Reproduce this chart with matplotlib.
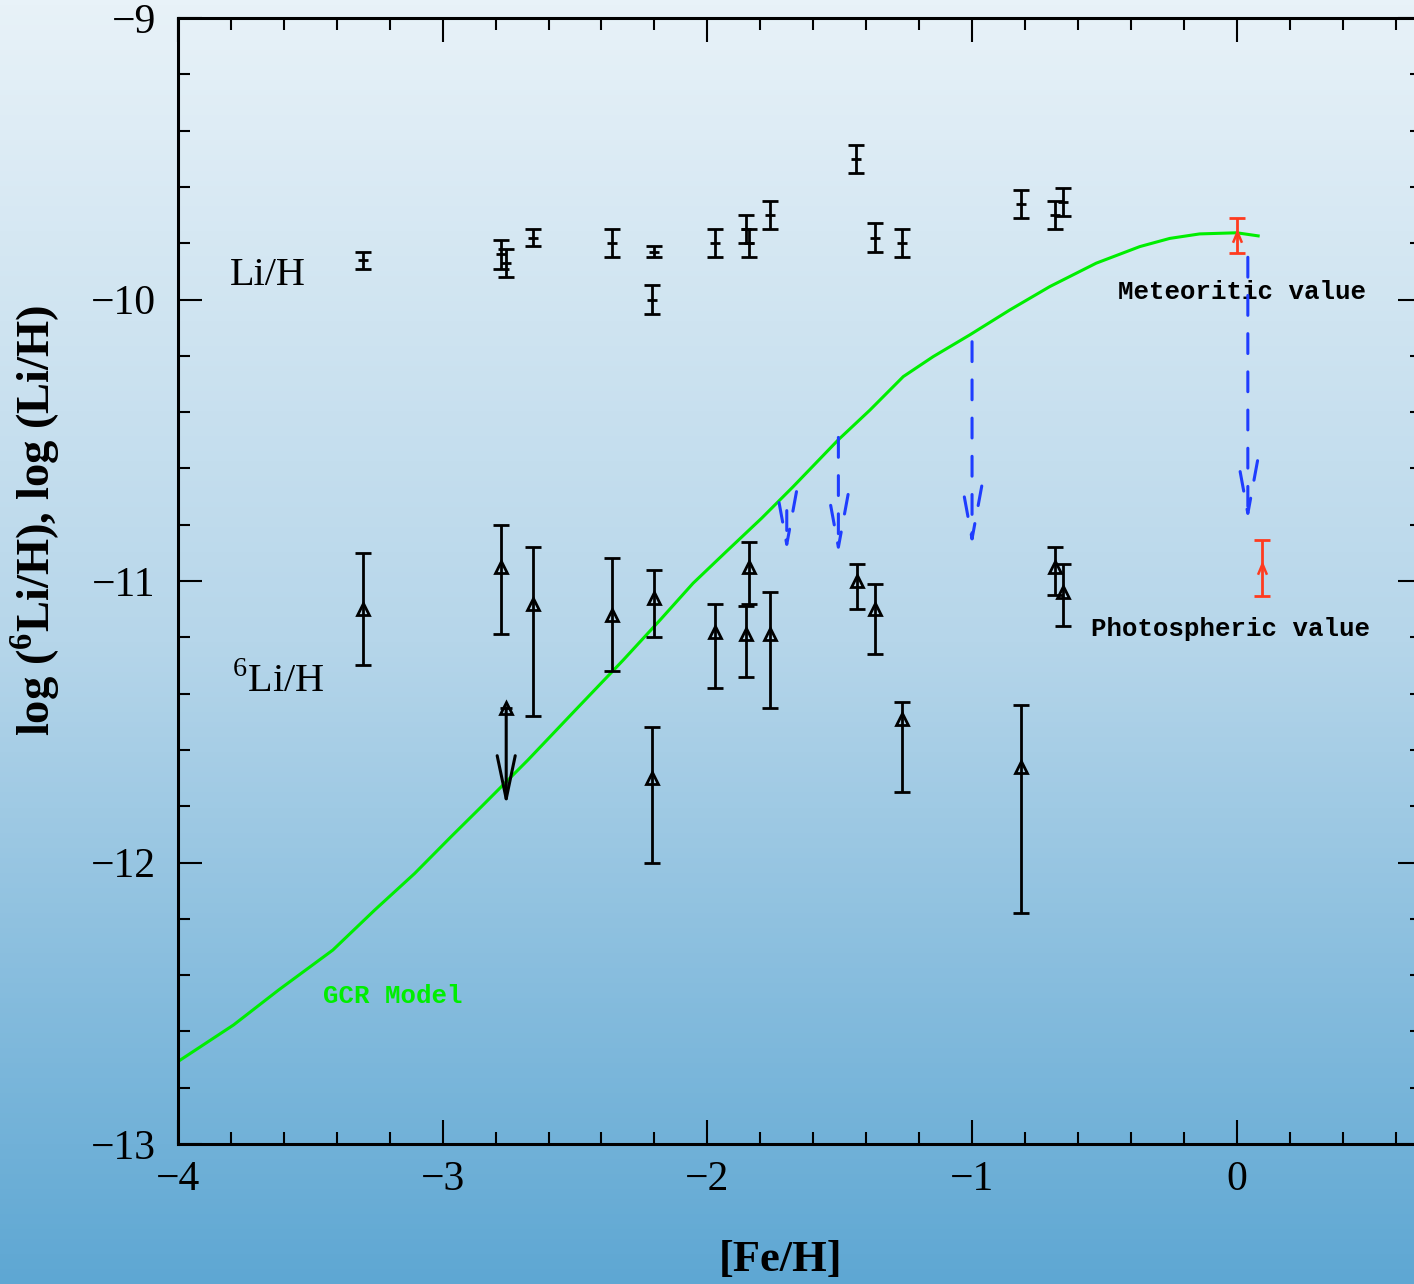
import matplotlib
matplotlib.use("Agg")
import matplotlib.pyplot as plt
import numpy as np
from matplotlib.colors import LinearSegmentedColormap
from matplotlib.path import Path
from matplotlib.ticker import MultipleLocator

# Li/H (upper group)
li_feh = [-3.30, -2.78, -2.76, -2.66, -2.36, -2.20, -2.21, -1.97, -1.855, -1.843,
          -1.765, -1.44, -1.365, -1.265, -0.815, -0.687, -0.657]
li_h = [-9.86, -9.84, -9.87, -9.78, -9.80, -9.83, -10.00, -9.80, -9.75, -9.80,
        -9.70, -9.50, -9.78, -9.80, -9.66, -9.70, -9.655]
li_err = [0.03, 0.05, 0.05, 0.03, 0.05, 0.02, 0.05, 0.05, 0.05, 0.05,
          0.05, 0.05, 0.05, 0.05, 0.05, 0.05, 0.05]

# 6Li/H (lower group)
li6_feh = [-3.30, -2.78, -2.66, -2.36, -2.20, -2.21, -1.97, -1.843, -1.855, -1.765,
           -1.435, -1.365, -1.265, -0.815, -0.687, -0.657]
li6_h = [-11.10, -10.95, -11.08, -11.12, -11.06, -11.70, -11.18, -10.95, -11.19, -11.19,
         -11.00, -11.10, -11.49, -11.66, -10.95, -11.04]
li6_lo = [0.20, 0.24, 0.40, 0.20, 0.14, 0.30, 0.20, 0.13, 0.15, 0.26,
          0.10, 0.16, 0.26, 0.52, 0.10, 0.12]
li6_hi = [0.20, 0.15, 0.20, 0.20, 0.10, 0.18, 0.10, 0.09, 0.10, 0.15,
          0.06, 0.09, 0.06, 0.22, 0.07, 0.10]

# 6Li upper limit
lim_feh = [-2.76]
lim_top = [-11.45]
lim_tip = [-11.80]

# solar values (meteoritic Li, photospheric Li)
sun_feh = [0.0, 0.094]
sun_h = [-9.773, -10.953]
sun_err = [0.061, 0.10]

# depletion arrows
dep_feh = [-1.70, -1.505, -1.00, 0.042]
dep_top = [-10.75, -10.49, -10.15, -9.85]
dep_tip = [-10.90, -10.91, -10.88, -10.79]

# GCR model curve
gcr_feh = [-4.0, -3.79, -3.62, -3.415, -3.257, -3.106, -2.968, -2.854, -2.678, -2.50,
           -2.318, -2.179, -2.054, -1.928, -1.795, -1.676, -1.506, -1.386, -1.26,
           -1.147, -1.009, -0.857, -0.706, -0.531, -0.366, -0.253, -0.14, 0.0, 0.081]
gcr_li = [-12.707, -12.577, -12.453, -12.311, -12.169, -12.039, -11.908, -11.802, -11.636, -11.46,
          -11.281, -11.139, -11.008, -10.895, -10.777, -10.665, -10.499, -10.393, -10.274,
          -10.203, -10.126, -10.037, -9.954, -9.871, -9.812, -9.783, -9.767, -9.763, -9.774]

plt.rcParams['font.family'] = ['Liberation Serif', 'DejaVu Serif']
plt.rcParams['mathtext.fontset'] = 'custom'
plt.rcParams['mathtext.rm'] = 'Liberation Serif'
plt.rcParams['mathtext.bf'] = 'Liberation Serif:bold'

fig = plt.figure(figsize=(14.14, 12.84), dpi=100)

# gradient background
bg = fig.add_axes([0, 0, 1, 1], zorder=-10)
cmap = LinearSegmentedColormap.from_list('bg', ['#e8f2f8', '#b6d6ea', '#5ea7d3'])
bg.imshow(np.linspace(0, 1, 256)[:, None], aspect='auto', cmap=cmap, extent=[0, 1, 0, 1])
bg.axis('off')

ax = fig.add_axes([178 / 1414, 140 / 1284, 1244 / 1414, 1126 / 1284])
ax.patch.set_alpha(0)
ax.set_xlim(-4, 0.7)
ax.set_ylim(-13, -9)

black = 'black'
red = '#ff3b1f'
blue = '#1f3dff'
green = '#00ee00'

ax.plot(gcr_feh, gcr_li, color=green, lw=2.2, zorder=2)

ax.errorbar(li_feh, li_h, yerr=li_err, fmt='_', color=black, ms=7, mew=2,
            elinewidth=2, capsize=5.5, capthick=2, zorder=3)

ax.errorbar(li6_feh, li6_h, yerr=[li6_lo, li6_hi], fmt='^', color=black, mfc='none',
            ms=8, mew=2, elinewidth=2, capsize=5.5, capthick=2, zorder=3)

ax.plot(lim_feh, lim_top, '^', color=black, mfc='none', ms=8, mew=2, zorder=3)
ax.plot(lim_feh, lim_top, '_', color=black, ms=9, mew=2, zorder=3)
for x, y0, y1 in zip(lim_feh, lim_top, lim_tip):
    ax.annotate('', xy=(x, y1), xytext=(x, y0),
                arrowprops=dict(arrowstyle='->,head_length=3.1,head_width=0.65',
                                mutation_scale=10, lw=2.2, color=black,
                                shrinkA=0, shrinkB=0), zorder=3)

chevron = Path([(-0.5, -0.7), (0, 0.5), (0.5, -0.7)],
               [Path.MOVETO, Path.LINETO, Path.LINETO])
ax.errorbar(sun_feh, sun_h, yerr=sun_err, fmt='none', ecolor=red,
            elinewidth=2, capsize=5.5, capthick=2, zorder=4)
ax.plot(sun_feh, sun_h, ls='none', marker=chevron, ms=9, mew=1.8, color=red,
        mfc='none', zorder=4)

for x, y0, y1 in zip(dep_feh, dep_top, dep_tip):
    ax.annotate('', xy=(x, y1), xytext=(x, y0),
                arrowprops=dict(arrowstyle='->,head_length=3.8,head_width=0.7',
                                mutation_scale=10, lw=2.2, ls=(0, (6.5, 6)), color=blue,
                                shrinkA=0, shrinkB=0), zorder=5)

ax.text(-3.804, -9.913, 'Li/H', fontsize=29, ha='left', va='center')
ax.text(-3.796, -11.36, r'$^{6}$Li/H', fontsize=29, ha='left', va='center')
mono = ['Liberation Mono', 'DejaVu Sans Mono']
ax.text(-0.449, -9.973, 'Meteoritic value', family=mono, fontweight='bold',
        fontsize=18.5, ha='left', va='center')
ax.text(-0.551, -11.17, 'Photospheric value', family=mono, fontweight='bold',
        fontsize=18.5, ha='left', va='center')
ax.text(-3.452, -12.474, 'GCR Model', family=mono, fontweight='bold',
        fontsize=18.5, color=green, ha='left', va='center')

ax.xaxis.set_major_locator(MultipleLocator(1))
ax.xaxis.set_minor_locator(MultipleLocator(0.2))
ax.yaxis.set_major_locator(MultipleLocator(1))
ax.yaxis.set_minor_locator(MultipleLocator(0.2))
ax.tick_params(which='both', direction='in', top=True, right=True, width=1.5)
ax.tick_params(which='major', length=17)
ax.tick_params(which='minor', length=8.6)
ax.tick_params(axis='x', labelsize=30, pad=12)
ax.tick_params(axis='y', labelsize=30, pad=16)
for s in ax.spines.values():
    s.set_linewidth(2.2)

ax.set_xlabel('[Fe/H]', fontsize=32, fontweight='bold')
ax.set_ylabel(r'log ($^{\mathbf{6}}$Li/H), log (Li/H)', fontsize=33.5, fontweight='bold')
ax.xaxis.set_label_coords(0.484, -0.085)
ax.yaxis.set_label_coords(-0.093, 0.554)

fig.savefig('out.png', dpi=100)
